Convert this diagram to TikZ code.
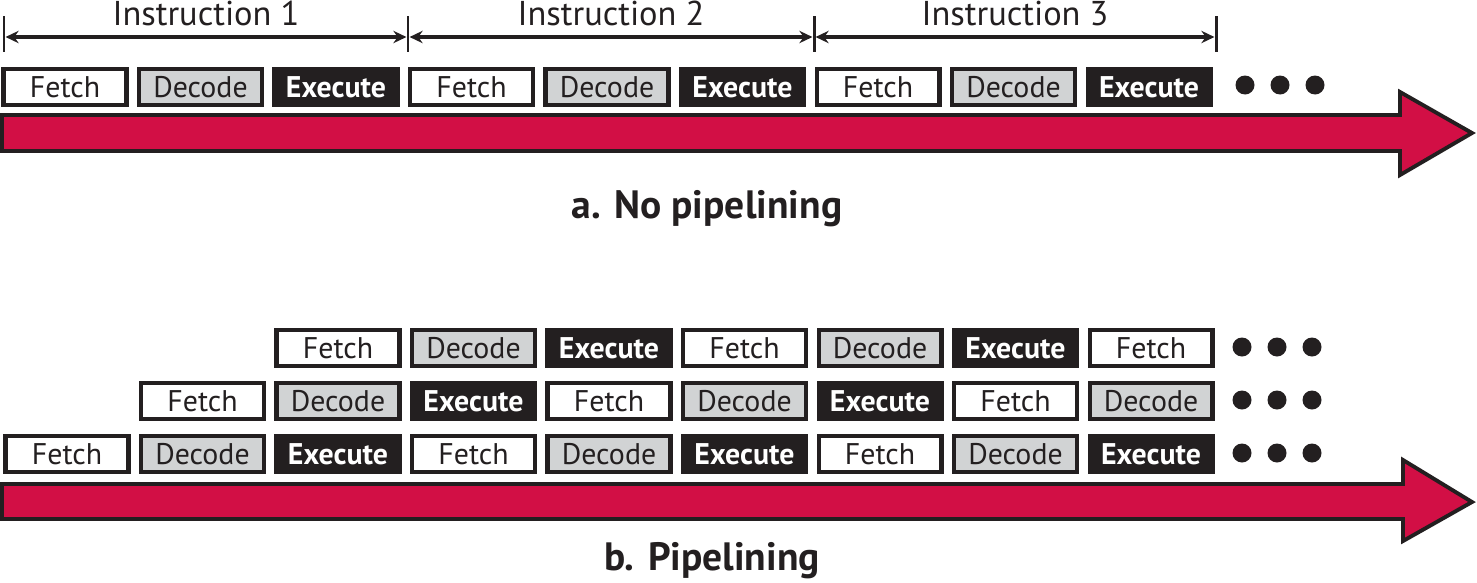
\documentclass[tikz,border=0pt]{standalone}
\usepackage{fontspec}
\setmainfont{PT Sans}
\usetikzlibrary{arrows.meta}

\definecolor{pipered}{HTML}{D20F45}
\definecolor{stagegray}{HTML}{D1D3D4}
\definecolor{inkblack}{HTML}{231F20}

\newcommand{\stagename}[1]{\ifcase#1 Fetch\or Decode\or \textbf{Execute}\fi}

\tikzset{
	stage/.style={draw=inkblack, line width=2.3pt, minimum width=2.46cm,
		minimum height=0.72cm, inner sep=0pt, text=inkblack,
		font=\fontsize{17}{17}\selectfont},
	stage 0/.style={stage, fill=white},
	stage 1/.style={stage, fill=stagegray},
	stage 2/.style={stage, fill=inkblack, text=white},
	timearrow/.style={fill=pipered, draw=inkblack, line width=2.2pt, line join=miter},
	span/.style={draw=inkblack, line width=1.9pt, {Stealth[length=7.4pt,width=7pt]}-{Stealth[length=7.4pt,width=7pt]},
		shorten <=0.9pt, shorten >=0.9pt},
	tick/.style={draw=inkblack, line width=1.7pt},
	caption/.style={text=inkblack, anchor=base, font=\fontsize{22.5}{22.5}\selectfont\bfseries},
	dot/.style={fill=inkblack}
}

\begin{document}
\begin{tikzpicture}[x=0.02cm,y=-0.02cm]
	\useasboundingbox (0,0) rectangle (1477,582);
	% instruction spans
	\foreach \t/\x in {0/4,1/408,2/814,3/1216} {
		\coordinate (tick\t) at (\x,37);
		\draw[tick] (\x,16) -- (\x,52);
	}
	\foreach \t/\n in {0/1,1/2,2/3} {
		\pgfmathtruncatemacro\u{\t+1}
		\draw[span] (tick\t) -- (tick\u)
			node[midway, anchor=base, yshift=6.8pt, text=inkblack, font=\fontsize{19.6}{19.6}\selectfont] (instr\n) {Instruction \n};
	}
	% a. no pipelining
	\foreach \i in {0,...,8} {
		\pgfmathtruncatemacro\k{mod(\i,3)}
		\node[stage \k] (a-\i) at (65+135.5*\i,87) {\stagename{\k}};
	}
	\foreach \x in {1245,1280,1315}
		\fill[dot] (\x,85) circle [radius=0.19cm];
	\draw[timearrow] (2,115) -- (1400,115) -- (1400,92) -- (1472,133)
		-- (1400,175) -- (1400,151) -- (2,151) -- cycle;
	\node[caption] (capa) at (707,218) {a. No pipelining};
	% b. pipelining
	\foreach \r/\y in {0/454,1/401,2/348} {
		\pgfmathtruncatemacro\last{8-\r}
		\foreach \j in {0,...,\last} {
			\pgfmathtruncatemacro\k{mod(\j,3)}
			\node[stage \k] (b-\r-\j) at (67+135.5*\j+135.5*\r,\y) {\stagename{\k}};
		}
		\foreach \x in {1242,1277,1312}
			\fill[dot] (\x,\y-1) circle [radius=0.19cm];
	}
	\draw[timearrow] (2,484) -- (1403,484) -- (1403,460) -- (1472,502)
		-- (1403,541) -- (1403,519) -- (2,519) -- cycle;
	\node[caption] (capb) at (712,570) {b. Pipelining};
\end{tikzpicture}
\end{document}
